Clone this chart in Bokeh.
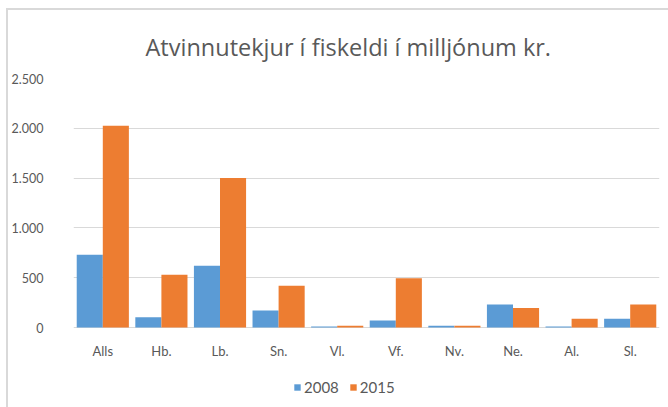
from bokeh.plotting import figure
from bokeh.models import FactorRange, Range1d, ColumnDataSource, Legend, LegendItem, Title, FixedTicker
from bokeh.core.properties import value
from bokeh.transform import dodge
from bokeh.embed import file_html
from bokeh.resources import INLINE

categories = ["Alls", "Hb.", "Lb.", "Sn.", "Vl.", "Vf.", "Nv.", "Ne.", "Al.", "Sl."]
v2008 = [730, 103, 620, 170, 10, 70, 18, 230, 10, 87]
v2015 = [2025, 530, 1500, 420, 18, 495, 18, 195, 87, 230]
y_ticks = [0, 500, 1000, 1500, 2000, 2500]
y_tick_labels = ["0", "500", "1.000", "1.500", "2.000", "2.500"]
series_names = ["2008", "2015"]
title_text = "Atvinnutekjur í fiskeldi í milljónum kr."

TXT = "#595959"
GRID = "#d9d9d9"
FONT = "Lato"

# layout: value area 249 px tall for 0..2500, frame extended 70 px below zero
# so that category labels and legend are drawn inside the frame
VAL_PX = 249
EXTRA_PX = 70
Y_MAX = y_ticks[-1]
units_per_px = Y_MAX / VAL_PX
y_start = -EXTRA_PX * units_per_px
label_y = -23 * units_per_px

src = ColumnDataSource(dict(cat=categories, a=v2008, b=v2015))

p = figure(frame_width=586, frame_height=VAL_PX + EXTRA_PX, x_range=FactorRange(*categories),
           y_range=Range1d(y_start, Y_MAX), output_backend="svg", toolbar_location=None,
           min_border_left=65, min_border_right=9, min_border_top=68, min_border_bottom=10,
           styles={"margin-left": "6px", "margin-top": "8px",
                   "border-left": "2px solid #d9d9d9", "border-top": "2px solid #d9d9d9"})
p.x_range.range_padding = 0

r1 = p.vbar(x=dodge("cat", -0.2225, range=p.x_range), top="a", width=0.445,
            source=src, color="#5B9BD5", line_color=None)
r2 = p.vbar(x=dodge("cat", 0.2225, range=p.x_range), top="b", width=0.445,
            source=src, color="#ED7D31", line_color=None)

# category labels below the zero line
p.text(x="cat", y=label_y, text="cat", source=src, text_align="center",
       text_baseline="middle", text_font=value(FONT), text_font_size="13px",
       text_color=TXT)

p.outline_line_color = None
p.xgrid.grid_line_color = None
p.xaxis.visible = False

yt = FixedTicker(ticks=y_ticks)
p.yaxis.ticker = yt
p.ygrid.ticker = yt
p.ygrid.grid_line_color = GRID
p.ygrid.grid_line_width = 1
p.yaxis.major_label_overrides = {t: l for t, l in zip(y_ticks, y_tick_labels)}
p.yaxis.axis_line_color = None
p.yaxis.major_tick_line_color = None
p.yaxis.minor_tick_line_color = None
p.yaxis.major_label_standoff = 24
p.yaxis.major_label_text_font_size = "12.5px"
p.yaxis.major_label_text_font = FONT
p.yaxis.major_label_text_color = TXT

p.add_layout(Title(text=title_text, align="left", offset=72, standoff=31,
                   text_font="Open Sans", text_font_size="23.5px", text_font_style="normal",
                   text_color=TXT), "above")

legend = Legend(items=[LegendItem(label=series_names[0], renderers=[r1]),
                       LegendItem(label=series_names[1], renderers=[r2])],
                orientation="horizontal", location=(220, 1),
                glyph_width=8, glyph_height=8, label_standoff=3, spacing=10,
                padding=0, margin=0, border_line_color=None, background_fill_alpha=0,
                label_text_font=FONT, label_text_font_size="15px", label_text_color=TXT)
p.add_layout(legend)

open("out.html", "w").write(file_html(p, INLINE))
